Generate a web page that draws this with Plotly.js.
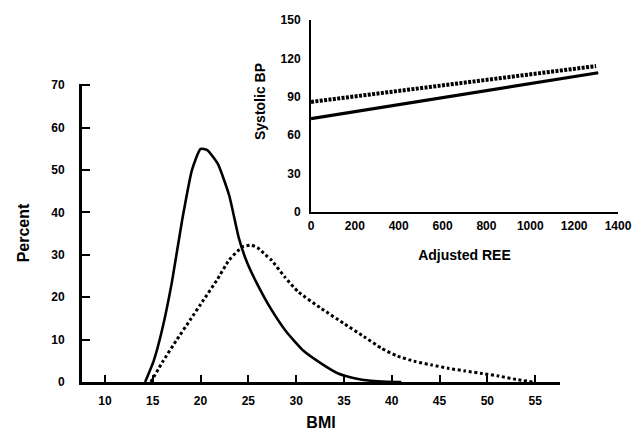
<!DOCTYPE html>
<html>
<head>
<meta charset="utf-8">
<script src="https://cdn.plot.ly/plotly-3.0.1.min.js"></script>
<style>html,body{margin:0;padding:0;background:#fff;}#chart{width:633px;height:433px;}</style>
</head>
<body>
<div id="chart"></div>
<script>
// Main chart: BMI distribution (percent)
const solidBMI = [14.2,15.1,16.0,17.0,18.1,19.1,20.0,20.7,21.8,23.0,24.0,24.9,26.0,27.3,29.0,30.8,32.6,34.4,36.1,37.8,39.5,41.0];
const solidPct = [0,5,12.5,23.5,38.5,50,55,54.7,51.5,44,34,28,22.8,17.5,11.8,7.3,4.4,2.0,0.9,0.3,0.05,0];
const dottedBMI = [14.8,16.1,17.5,18.9,20.3,21.7,23.0,24.4,25.3,26.0,26.8,27.4,28.8,30.2,32.6,35.0,37.1,38.9,40.5,42.5,44.2,46.0,47.7,49.5,51.2,53.0,54.8];
const dottedPct = [0,5,9.9,14.6,19.3,24,28.8,31.9,32.3,31.6,30,28.8,24.8,21.3,17.4,13.8,10.7,8.0,6.2,4.8,4.0,3.2,2.6,2.0,1.4,0.6,0];
const bmiTicks = [10,15,20,25,30,35,40,45,50,55];
const pctTicks = [0,10,20,30,40,50,60,70];

// Inset: Systolic BP vs adjusted REE
const insetSolidREE = [0,1310];
const insetSolidBP = [73,108.8];
const insetDottedREE = [0,1300];
const insetDottedBP = [86,114];
const reeTicks = [0,200,400,600,800,1000,1200,1400];
const bpTicks = [0,30,60,90,120,150];

const W = 633, H = 433;
const px = x => x / W;
const py = y => 1 - y / H;
const FONT = 'Liberation Sans, Arial, sans-serif';

const traces = [
  {x: solidBMI, y: solidPct, xaxis: 'x', yaxis: 'y', mode: 'lines',
   line: {color: '#000', width: 2.6, shape: 'spline', smoothing: 0.5}, hoverinfo: 'skip'},
  {x: dottedBMI, y: dottedPct, xaxis: 'x', yaxis: 'y', mode: 'lines',
   line: {color: '#000', width: 3, dash: '3px,2.6px', shape: 'spline', smoothing: 0.5}, hoverinfo: 'skip'},
  {x: insetSolidREE, y: insetSolidBP, xaxis: 'x2', yaxis: 'y2', mode: 'lines',
   line: {color: '#000', width: 3.2}, hoverinfo: 'skip'},
  {x: insetDottedREE, y: insetDottedBP, xaxis: 'x2', yaxis: 'y2', mode: 'lines',
   line: {color: '#000', width: 4, dash: '3px,1.4px'}, hoverinfo: 'skip'}
];

const tickFont = {family: FONT, size: 12, color: '#000', weight: 'bold'};

const layout = {
  width: W, height: H,
  margin: {l: 0, r: 0, t: 0, b: 0},
  paper_bgcolor: '#fff', plot_bgcolor: 'rgba(0,0,0,0)',
  showlegend: false,
  font: {family: FONT, color: '#000'},
  xaxis: {
    domain: [px(82), px(560)], range: [7.6, 57.6],
    tickvals: bmiTicks, ticktext: bmiTicks.map(String),
    ticks: 'inside', ticklen: 7, tickwidth: 2, tickcolor: '#000',
    showline: true, linewidth: 3, linecolor: '#000',
    showgrid: false, zeroline: false, tickfont: tickFont,
    ticklabelstandoff: 6,
    title: {text: 'BMI', font: {family: FONT, size: 16, color: '#000', weight: 'bold'}, standoff: 10},
    anchor: 'y', fixedrange: true
  },
  yaxis: {
    domain: [py(382), py(84)], range: [0, 70.3],
    tickvals: pctTicks, ticktext: pctTicks.map(String),
    ticks: 'inside', ticklen: 8, tickwidth: 2, tickcolor: '#000',
    showline: true, linewidth: 3, linecolor: '#000',
    showgrid: false, zeroline: false, tickfont: tickFont,
    ticklabelstandoff: 12,
    title: {text: 'Percent', font: {family: FONT, size: 16, color: '#000', weight: 'bold'}, standoff: 18},
    anchor: 'x', fixedrange: true
  },
  xaxis2: {
    domain: [px(311), px(618)], range: [0, 1400],
    tickvals: reeTicks, ticktext: reeTicks.map(String),
    ticks: '', showline: true, linewidth: 2, linecolor: '#000',
    showgrid: false, zeroline: false, tickfont: tickFont,
    ticklabelstandoff: 2,
    title: {text: 'Adjusted REE', font: {family: FONT, size: 14, color: '#000', weight: 'bold'}, standoff: 18},
    anchor: 'y2', fixedrange: true
  },
  yaxis2: {
    domain: [py(212), py(20)], range: [0, 150],
    tickvals: bpTicks, ticktext: bpTicks.map(String),
    ticks: '', showline: true, linewidth: 2, linecolor: '#000',
    showgrid: false, zeroline: false, tickfont: tickFont,
    ticklabelstandoff: 6,
    anchor: 'x2', fixedrange: true
  },
  annotations: [
    {text: 'Systolic BP', xref: 'paper', yref: 'paper', x: px(260), y: py(102),
     textangle: -90, showarrow: false, xanchor: 'center', yanchor: 'middle',
     font: {family: FONT, size: 14, color: '#000', weight: 'bold'}}
  ]
};

Plotly.newPlot('chart', traces, layout, {staticPlot: true, displayModeBar: false});
</script>
</body>
</html>
